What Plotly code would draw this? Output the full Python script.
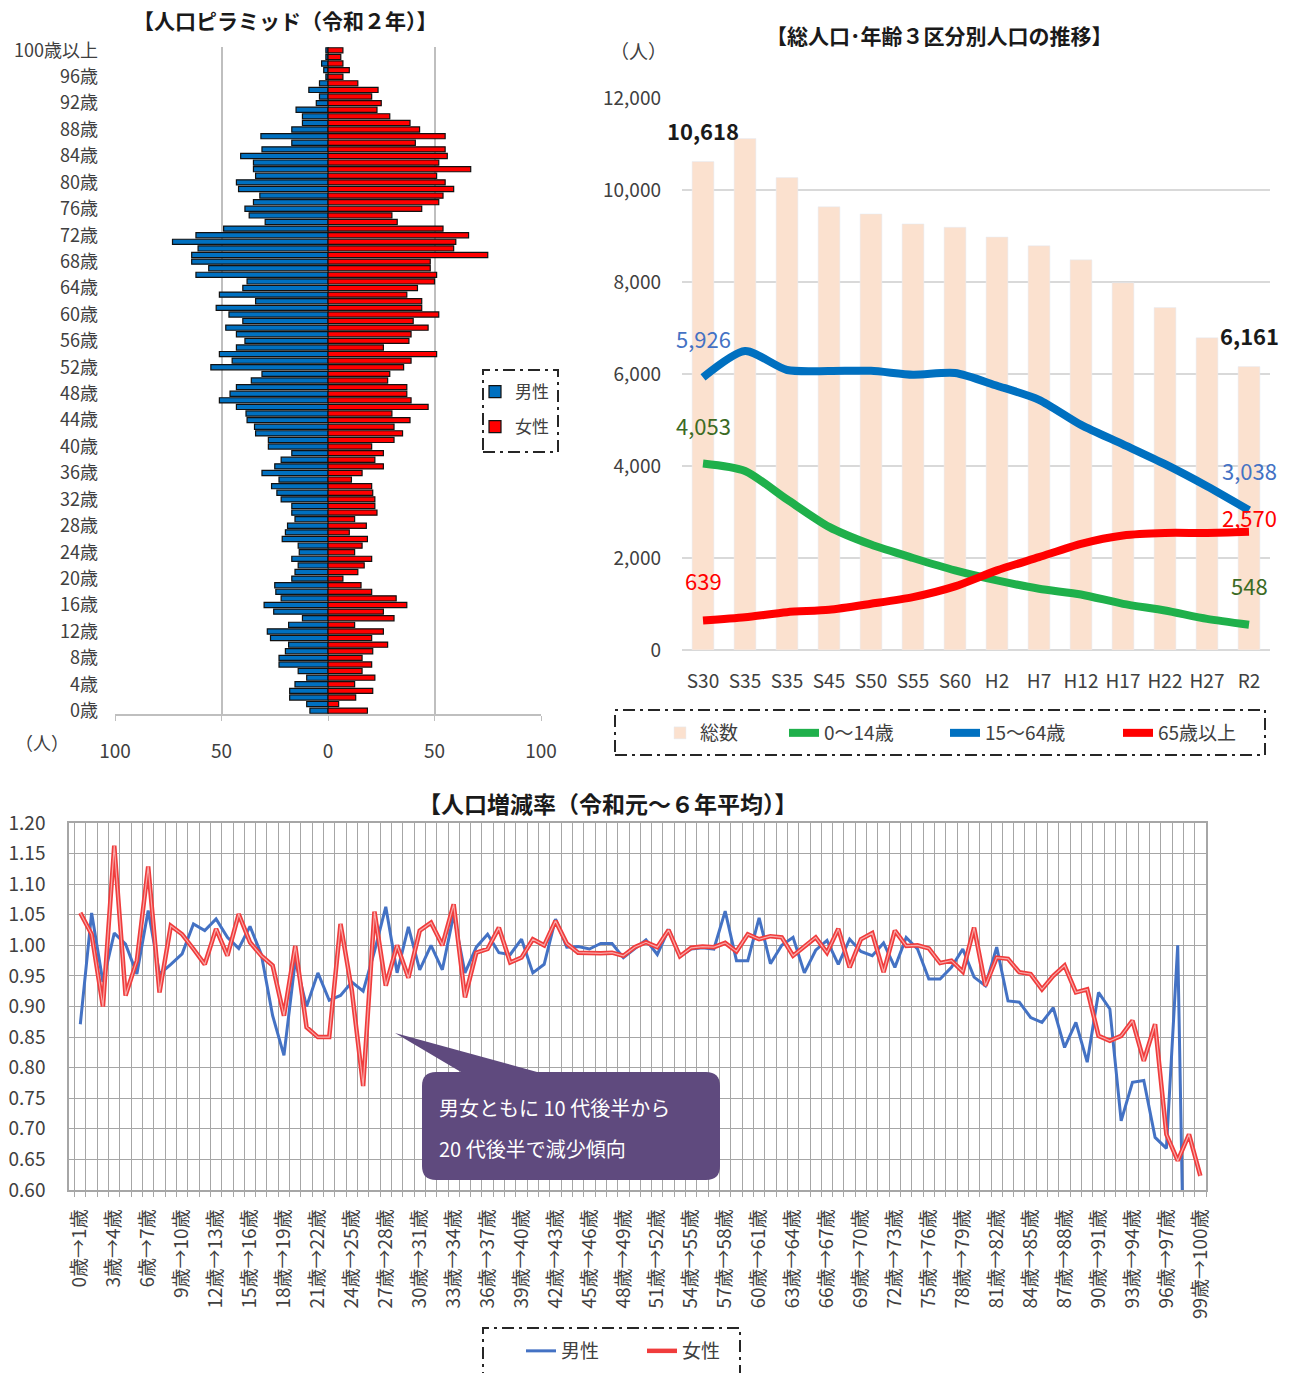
import plotly.graph_objects as go

W, H = 1298, 1373


def fx(x):
    return x / W


def fy(y):
    return 1 - y / H


# ---------------- Population pyramid (R2) ----------------
ages = list(range(101))
age_tick_vals = list(range(0, 101, 4))
age_tick_text = [f"{a}歳" for a in range(0, 100, 4)] + ["100歳以上"]
male_pop = [8.5, 10, 18, 18, 15.5, 10, 14, 23, 23, 20,
            18.5, 27, 28.5, 18.5, 12, 25.5, 30, 22, 24.5, 25,
            17, 15.5, 14, 17, 13.5, 14, 21.5, 20, 19, 15.5,
            17, 17, 22, 24, 26.5, 23, 31, 25, 22, 17,
            28, 28, 34, 34.5, 38, 38.5, 43, 51, 46, 43,
            36, 31, 55, 45, 51, 43, 39, 43, 48, 40,
            46.5, 52.5, 34, 51, 40, 38, 62, 56, 64, 64,
            61, 73, 62, 49, 29.5, 37, 39, 35, 32, 42,
            43, 34, 35, 35, 41, 31, 17, 31.5, 17, 12,
            12, 15, 5.5, 4, 9, 4, 1, 2, 3, 1, 1]
female_pop = [18.5, 5, 13, 21, 12.5, 22, 16, 20.5, 16, 21,
              28, 20.5, 26, 12.5, 31, 26, 37, 32, 20.5, 15.5,
              7, 14, 17, 20.5, 12.5, 16, 18.5, 10, 18, 12.5,
              23, 22, 22, 21, 20.5, 11, 16, 26, 22, 26,
              20.5, 31, 35, 31, 38.5, 30, 47, 39, 37, 37,
              28, 29, 35.5, 39, 51, 26, 38, 39, 47, 40,
              52, 44, 44, 37, 42, 50, 51, 48, 48, 75,
              59, 60, 66, 54, 32.5, 30, 44, 52, 54, 59,
              55, 51, 67, 52, 56, 55, 41, 55, 43, 38.5,
              29, 23, 25, 20.5, 23.5, 14, 7, 10, 7, 6, 7]
pyr_x_vals = [-100, -50, 0, 50, 100]
pyr_x_text = ["100", "50", "0", "50", "100"]

# ---------------- Population trend ----------------
periods = ["S30", "S35", "S35", "S45", "S50", "S55", "S60",
           "H2", "H7", "H12", "H17", "H22", "H27", "R2"]
total_pop = [10618, 11120, 10270, 9635, 9480, 9263, 9190,
             8978, 8788, 8482, 7985, 7445, 6788, 6161]
young_pop = [4053, 3891, 3273, 2676, 2291, 2000, 1731,
             1513, 1331, 1207, 1004, 858, 676, 548]
working_pop = [5926, 6500, 6087, 6065, 6070, 5985, 6020,
               5745, 5440, 4894, 4470, 4040, 3560, 3038]
elderly_pop = [639, 713, 822, 873, 1004, 1149, 1382,
               1731, 2018, 2309, 2491, 2545, 2545, 2570]

# ---------------- Cohort change rate ----------------
cohorts = [f"{a}歳→{a + 1}歳" for a in range(100)]
male_rate = [0.871, 1.053, 0.94, 1.02, 1.002, 0.953, 1.057, 0.953, 0.969, 0.986,
             1.035, 1.024, 1.043, 1.013, 0.995, 1.031, 0.985, 0.885, 0.82, 0.975,
             0.90, 0.955, 0.91, 0.918, 0.94, 0.925, 0.99, 1.063, 0.955, 1.03,
             0.96, 1.0, 0.96, 1.05, 0.955, 0.997, 1.018, 0.988, 0.985, 1.01,
             0.955, 0.969, 1.043, 0.997, 0.998, 0.994, 1.003, 1.003, 0.98, 0.994,
             1.009, 0.985, 1.026, 0.982, 0.994, 0.996, 0.994, 1.056, 0.975, 0.975,
             1.045, 0.97, 1.0, 1.013, 0.955, 0.992, 1.008, 0.969, 1.01, 0.99,
             0.983, 1.004, 0.964, 1.013, 0.994, 0.945, 0.945, 0.964, 0.994, 0.948,
             0.934, 0.997, 0.909, 0.907, 0.882, 0.874, 0.898, 0.833, 0.874, 0.809,
             0.923, 0.896, 0.713, 0.776, 0.779, 0.686, 0.668, 1.0, 0.0, 0.0]
female_rate = [1.053, 1.018, 0.90, 1.163, 0.918, 0.975, 1.129, 0.923, 1.032, 1.018,
               0.994, 0.969, 1.027, 0.983, 1.051, 1.005, 0.983, 0.967, 0.885, 0.999,
               0.866, 0.85, 0.85, 1.035, 0.926, 0.77, 1.055, 0.934, 1.0, 0.947,
               1.024, 1.037, 1.0, 1.067, 0.915, 0.988, 0.994, 1.029, 0.972, 0.98,
               1.01, 1.0, 1.04, 1.003, 0.988, 0.987, 0.987, 0.988, 0.983, 0.997,
               1.005, 0.997, 1.025, 0.982, 0.996, 0.998, 0.997, 1.004, 0.99, 1.018,
               1.01, 1.015, 1.013, 0.983, 0.998, 1.013, 0.988, 1.027, 0.964, 1.01,
               1.02, 0.956, 1.024, 0.999, 1.0, 0.995, 0.971, 0.975, 0.957, 1.029,
               0.934, 0.98, 0.978, 0.956, 0.953, 0.928, 0.95, 0.967, 0.923, 0.928,
               0.852, 0.844, 0.852, 0.877, 0.811, 0.871, 0.691, 0.648, 0.691, 0.623]
rate_tick_idx = list(range(0, 100, 3))

FONT = "Noto Sans CJK JP, Noto Sans, sans-serif"
TXT = "#404040"

fig = go.Figure()

# Pyramid
fig.add_trace(go.Bar(y=ages, x=[-v for v in male_pop], orientation="h", name="男性",
                     marker=dict(color="#0070c0", line=dict(color="#111111", width=1.2)),
                     xaxis="x", yaxis="y", legend="legend", legendgroup="m"))
fig.add_trace(go.Bar(y=ages, x=female_pop, orientation="h", name="女性",
                     marker=dict(color="#ff0000", line=dict(color="#111111", width=1.2)),
                     xaxis="x", yaxis="y", legend="legend", legendgroup="f"))

# Trend
fig.add_trace(go.Bar(x=list(range(len(periods))), y=total_pop, name="総数", width=0.52,
                     marker=dict(color="#fbe1cf"), xaxis="x2", yaxis="y2", legend="legend2"))
for vals, nm, col, lg in [(young_pop, "0～14歳", "#1fb04b", "legend4"),
                          (working_pop, "15～64歳", "#0070c0", "legend5"),
                          (elderly_pop, "65歳以上", "#ff0000", "legend6")]:
    fig.add_trace(go.Scatter(x=list(range(len(periods))), y=vals, mode="lines", name=nm,
                             line=dict(color=col, width=8, shape="spline", smoothing=0.7),
                             xaxis="x2", yaxis="y2", legend=lg))

# Rate
xs = list(range(len(cohorts)))
fig.add_trace(go.Scatter(x=xs, y=male_rate, mode="lines", name="男性",
                         line=dict(color="#4472c4", width=3),
                         xaxis="x3", yaxis="y3", legend="legend3"))
fig.add_trace(go.Scatter(x=xs, y=female_rate, mode="lines", name="女性",
                         line=dict(color="#f03c3c", width=4.5),
                         xaxis="x3", yaxis="y3", legend="legend7"))
fig.add_trace(go.Scatter(x=xs, y=female_rate, mode="lines", name="女性", showlegend=False,
                         line=dict(color="#f8a8a8", width=1.2),
                         xaxis="x3", yaxis="y3", hoverinfo="skip"))


def lg_h(x, y, size=19):
    return dict(x=fx(x), y=fy(y), xanchor="left", yanchor="middle", orientation="h",
                font=dict(size=size, color=TXT), bgcolor="rgba(0,0,0,0)")


fig.update_layout(
    width=W, height=H, autosize=False,
    margin=dict(l=0, r=0, t=0, b=0, autoexpand=False),
    paper_bgcolor="white", plot_bgcolor="white",
    font=dict(family=FONT, color=TXT),
    barmode="relative", bargap=0.22,
    xaxis=dict(domain=[fx(115), fx(541)], range=[-100, 100], tickvals=pyr_x_vals, ticktext=pyr_x_text,
               showgrid=True, gridcolor="#bfbfbf", gridwidth=1.5,
               zeroline=True, zerolinecolor="#5b9bd5", zerolinewidth=1,
               showline=True, linecolor="#bfbfbf", linewidth=1.5,
               ticks="outside", ticklen=5, tickcolor="#bfbfbf",
               tickfont=dict(size=19, color=TXT), ticklabelstandoff=14, anchor="y"),
    yaxis=dict(domain=[fy(714), fy(47)], range=[-0.5, 100.5], tickvals=age_tick_vals, ticktext=age_tick_text,
               showgrid=False, zeroline=False, showline=False, ticks="",
               tickfont=dict(size=18, color=TXT), ticklabelstandoff=16, anchor="x"),
    xaxis2=dict(domain=[fx(682), fx(1270)], range=[-0.5, 13.5], tickvals=list(range(len(periods))),
                ticktext=periods, showgrid=False, zeroline=False, showline=False, ticks="",
                tickfont=dict(size=19, color=TXT), ticklabelstandoff=18, anchor="y2"),
    yaxis2=dict(domain=[fy(650), fy(98)], range=[0, 12000], dtick=2000, tickformat=",",
                showgrid=True, gridcolor="#d9d9d9", gridwidth=1.5, zeroline=True,
                zerolinecolor="#d9d9d9", zerolinewidth=1.5, showline=False,
                tickfont=dict(size=19, color=TXT), ticklabelstandoff=20, anchor="x2"),
    xaxis3=dict(domain=[fx(69), fx(1206)], range=[-1, 99.5], tickvals=rate_tick_idx,
                ticktext=[cohorts[i] for i in rate_tick_idx], tickangle=-90,
                showgrid=False, zeroline=False, showline=True, linecolor="#a6a6a6",
                linewidth=1.5, mirror=True, ticks="",
                minor=dict(tickmode="linear", tick0=0.5, dtick=1, showgrid=True,
                           gridcolor="#a6a6a6", gridwidth=1.2, ticks="outside",
                           ticklen=5, tickcolor="#a6a6a6"),
                tickfont=dict(size=19, color=TXT), ticklabelstandoff=10, anchor="y3"),
    yaxis3=dict(domain=[fy(1190), fy(823)], range=[0.6, 1.2], dtick=0.05, tick0=0.6,
                tickformat=".2f", showgrid=True, gridcolor="#a6a6a6", gridwidth=1.2,
                zeroline=False, showline=True, linecolor="#a6a6a6", linewidth=1.5, mirror=True,
                tickfont=dict(size=19, color=TXT), ticklabelstandoff=18, anchor="x3"),
    legend=dict(x=fx(475), y=fy(374), xanchor="left", yanchor="top", orientation="v",
                font=dict(size=17, color=TXT), bgcolor="rgba(0,0,0,0)",
                traceorder="grouped", tracegroupgap=10),
    legend2=lg_h(660, 733),
    legend4=lg_h(784, 733),
    legend5=lg_h(945, 733),
    legend6=lg_h(1118, 733),
    legend3=lg_h(521, 1351),
    legend7=lg_h(642, 1351),
    showlegend=True,
)

# Titles and unit labels
ann = []
ann.append(dict(text="<b>【人口ピラミッド（令和２年）】</b>", x=fx(285), y=fy(20), size=21))
ann.append(dict(text="<b>【総人口･年齢３区分別人口の推移】</b>", x=fx(940), y=fy(35), size=21))
ann.append(dict(text="<b>【人口増減率（令和元～６年平均）】</b>", x=fx(608), y=fy(803), size=23))
ann.append(dict(text="（人）", x=fx(42), y=fy(742), size=18))
ann.append(dict(text="（人）", x=fx(638), y=fy(50), size=19))
for a in ann:
    fig.add_annotation(text=a["text"], x=a["x"], y=a["y"], xref="paper", yref="paper",
                       showarrow=False, xanchor="center", yanchor="middle",
                       font=dict(size=a["size"], color="#1a1a1a" if "<b>" in a["text"] else TXT))

# Data labels for trend chart
GREEN_LBL = "#3b6a24"
BLUE_LBL = "#4472c4"
labels = [
    (0, total_pop[0], f"<b>{total_pop[0]:,}</b>", "#1a1a1a", 32, 0),
    (13, total_pop[-1], f"<b>{total_pop[-1]:,}</b>", "#1a1a1a", 32, 0),
    (0, working_pop[0], f"{working_pop[0]:,}", BLUE_LBL, 39, 0),
    (0, young_pop[0], f"{young_pop[0]:,}", GREEN_LBL, 39, 0),
    (0, elderly_pop[0], f"{elderly_pop[0]:,}", "#ff0000", 41, 0),
    (13, working_pop[-1], f"{working_pop[-1]:,}", BLUE_LBL, 40, 0),
    (13, elderly_pop[-1], f"{elderly_pop[-1]:,}", "#ff0000", 15, 0),
    (13, young_pop[-1], f"{young_pop[-1]:,}", GREEN_LBL, 40, 0),
]
for x, y, t, c, ys, xs_ in labels:
    fig.add_annotation(text=t, x=x, y=y, xref="x2", yref="y2", showarrow=False,
                       yshift=ys, xshift=xs_, font=dict(size=22, color=c))


# Legend borders (dash-dot)
def rect(x0, y0, x1, y1):
    fig.add_shape(type="rect", xref="paper", yref="paper",
                  x0=fx(x0), x1=fx(x1), y0=fy(y1), y1=fy(y0),
                  line=dict(color="#262626", width=2, dash="12px,5px,3px,5px"),
                  fillcolor="rgba(0,0,0,0)", layer="above")


rect(483, 370, 558, 452)
rect(615, 710, 1265, 755)
rect(483, 1328, 740, 1395)


# Callout
def P(x, y):
    return f"{fx(x):.5f},{fy(y):.5f}"


CALL = "#5f4a7e"
tri = f"M{P(395, 1033)} L{P(466, 1075)} L{P(548, 1075)} Z"
fig.add_shape(type="path", xref="paper", yref="paper", path=tri,
              fillcolor=CALL, line=dict(width=0), layer="above")
x0, y0, x1, y1, r = 422, 1072, 720, 1180, 14
rr = (f"M{P(x0 + r, y0)} L{P(x1 - r, y0)} Q{P(x1, y0)} {P(x1, y0 + r)} "
      f"L{P(x1, y1 - r)} Q{P(x1, y1)} {P(x1 - r, y1)} L{P(x0 + r, y1)} "
      f"Q{P(x0, y1)} {P(x0, y1 - r)} L{P(x0, y0 + r)} Q{P(x0, y0)} {P(x0 + r, y0)} Z")
fig.add_shape(type="path", xref="paper", yref="paper", path=rr,
              fillcolor=CALL, line=dict(width=0), layer="above")
fig.add_annotation(text="男女ともに 10 代後半から", x=fx(437), y=fy(1107), xref="paper", yref="paper",
                   showarrow=False, xanchor="left", yanchor="middle", font=dict(size=20, color="white"))
fig.add_annotation(text="20 代後半で減少傾向", x=fx(437), y=fy(1148), xref="paper", yref="paper",
                   showarrow=False, xanchor="left", yanchor="middle", font=dict(size=20, color="white"))

fig.write_html("out.html", config={"displayModeBar": False},
               post_script="document.body.style.margin='0';document.body.style.overflow='hidden';")
